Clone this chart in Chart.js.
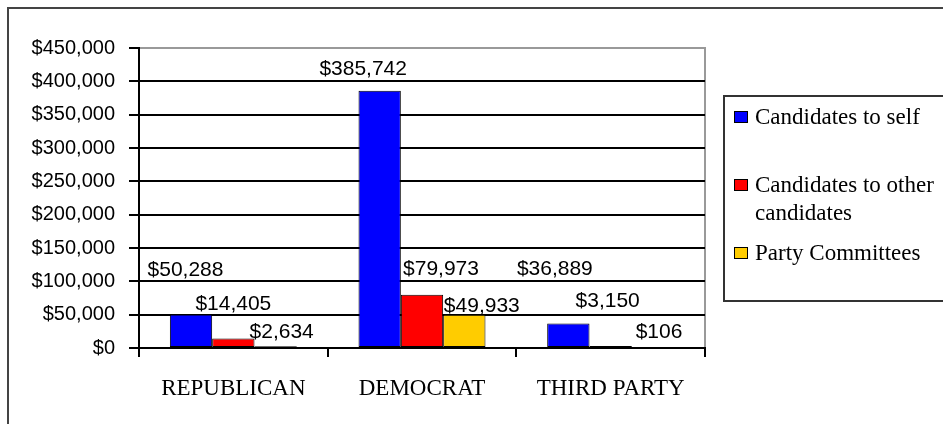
<!DOCTYPE html>
<html>
<head>
<meta charset="utf-8">
<script src="https://cdn.jsdelivr.net/npm/chart.js@4.4.0/dist/chart.umd.min.js"></script>
<style>
  html, body { margin: 0; padding: 0; background: #fff; }
  #grafico { display: block; }
</style>
</head>
<body>
<canvas id="grafico" width="943" height="424"></canvas>
<script>
// datos
const categorias = ['REPUBLICAN', 'DEMOCRAT', 'THIRD PARTY'];
const nombresSeries = ['Candidates to self', 'Candidates to other candidates', 'Party Committees'];
const candidatosPropio = [50288, 385742, 36889];
const candidatosOtros = [14405, 79973, 3150];
const comitesPartido = [2634, 49933, 106];
const ejeYMax = 450000;
const ejeYPaso = 50000;

// estilos
const colores = ['#0000FF', '#FF0000', '#FFCC00'];
const fuenteSerif = '"Liberation Serif", "Times New Roman", serif';
const fuenteSans = '"Liberation Sans", Arial, sans-serif';

// desplazamiento de cada etiqueta respecto al tope de su barra (dx, dy), como en el original
const desplazamientoEtiquetas = [
    [[-5.5, -38], [-16.5, -16], [-13.5, -48]],
    [[0, -28], [19, -20], [-3, -39]],
    [[6, -8], [17.5, -3], [6, -10]]
];

function formatearMonto(v) {
    return '$' + Number(v).toLocaleString('en-US');
}

const pluginFondo = {
    id: 'fondo',
    beforeDraw(chart) {
        const ctx = chart.ctx;
        const area = chart.chartArea;
        ctx.save();
        ctx.fillStyle = '#fff';
        ctx.fillRect(0, 0, chart.width, chart.height);
        // marco exterior (sin borde derecho ni inferior visibles)
        ctx.strokeStyle = '#444';
        ctx.lineWidth = 2;
        ctx.beginPath();
        ctx.moveTo(8, chart.height + 2);
        ctx.lineTo(8, 8);
        ctx.lineTo(chart.width + 2, 8);
        ctx.stroke();
        // borde gris del area de trazado
        ctx.strokeStyle = '#999';
        ctx.lineWidth = 2;
        ctx.beginPath();
        ctx.moveTo(area.left, area.top);
        ctx.lineTo(area.right, area.top);
        ctx.lineTo(area.right, area.bottom);
        ctx.stroke();
        ctx.restore();
    }
};

const pluginEtiquetas = {
    id: 'etiquetas',
    afterDatasetsDraw(chart) {
        const ctx = chart.ctx;
        ctx.save();
        ctx.font = '21px ' + fuenteSans;
        ctx.fillStyle = '#000';
        ctx.textAlign = 'center';
        ctx.textBaseline = 'alphabetic';
        chart.data.datasets.forEach((ds, i) => {
            chart.getDatasetMeta(i).data.forEach((barra, j) => {
                const d = desplazamientoEtiquetas[i][j];
                ctx.fillText(formatearMonto(ds.data[j]), barra.x + d[0], barra.y + d[1]);
            });
        });
        ctx.restore();
    }
};

const pluginLeyenda = {
    id: 'leyendaExcel',
    afterDraw(chart) {
        const ctx = chart.ctx;
        ctx.save();
        ctx.strokeStyle = '#333';
        ctx.lineWidth = 2;
        ctx.strokeRect(724, 96, 240, 205);
        ctx.font = '23px ' + fuenteSerif;
        ctx.textAlign = 'left';
        ctx.textBaseline = 'alphabetic';
        const anchoMax = chart.width - 757;
        chart.data.datasets.forEach((ds, i) => {
            const base = 124 + i * 68;
            // cuadrito de color
            ctx.fillStyle = ds.backgroundColor;
            ctx.fillRect(734, base - 13, 14, 12);
            ctx.strokeStyle = '#000';
            ctx.lineWidth = 1;
            ctx.strokeRect(734.5, base - 12.5, 13, 11);
            // texto con salto de linea si no cabe
            ctx.fillStyle = '#000';
            const palabras = ds.label.split(' ');
            let linea = '';
            let y = base;
            palabras.forEach(p => {
                const prueba = linea ? linea + ' ' + p : p;
                if (linea && ctx.measureText(prueba).width > anchoMax) {
                    ctx.fillText(linea, 755, y);
                    linea = p;
                    y += 28;
                } else {
                    linea = prueba;
                }
            });
            ctx.fillText(linea, 755, y);
        });
        ctx.restore();
    }
};

const series = [candidatosPropio, candidatosOtros, comitesPartido];

new Chart(document.getElementById('grafico'), {
    type: 'bar',
    data: {
        labels: categorias,
        datasets: series.map((valores, i) => ({
            label: nombresSeries[i],
            data: valores,
            backgroundColor: colores[i],
            borderColor: '#000',
            borderWidth: 1,
            borderSkipped: false,
            categoryPercentage: 0.673,
            barPercentage: 1
        }))
    },
    options: {
        responsive: false,
        animation: false,
        devicePixelRatio: 1,
        layout: { padding: { top: 48, right: 238, left: 0, bottom: 0 } },
        plugins: {
            legend: { display: false },
            tooltip: { enabled: false }
        },
        scales: {
            x: {
                afterFit: scale => { scale.height = 76; },
                grid: {
                    offset: true,
                    drawOnChartArea: false,
                    drawTicks: true,
                    tickLength: 9,
                    color: '#000',
                    lineWidth: 2
                },
                border: { color: '#000', width: 2 },
                ticks: {
                    color: '#000',
                    padding: 18,
                    font: { family: fuenteSerif, size: 23 }
                }
            },
            y: {
                min: 0,
                max: ejeYMax,
                afterFit: scale => { scale.width = 139; },
                grid: {
                    color: ctx => (ctx.tick && ctx.tick.value === ejeYMax ? '#999' : '#000'),
                    tickColor: '#000',
                    lineWidth: 2,
                    tickLength: 10
                },
                border: { color: '#000', width: 2 },
                ticks: {
                    stepSize: ejeYPaso,
                    color: '#000',
                    padding: 14,
                    font: { family: fuenteSans, size: 20 },
                    callback: v => formatearMonto(v)
                }
            }
        }
    },
    plugins: [pluginFondo, pluginEtiquetas, pluginLeyenda]
});
</script>
</body>
</html>
